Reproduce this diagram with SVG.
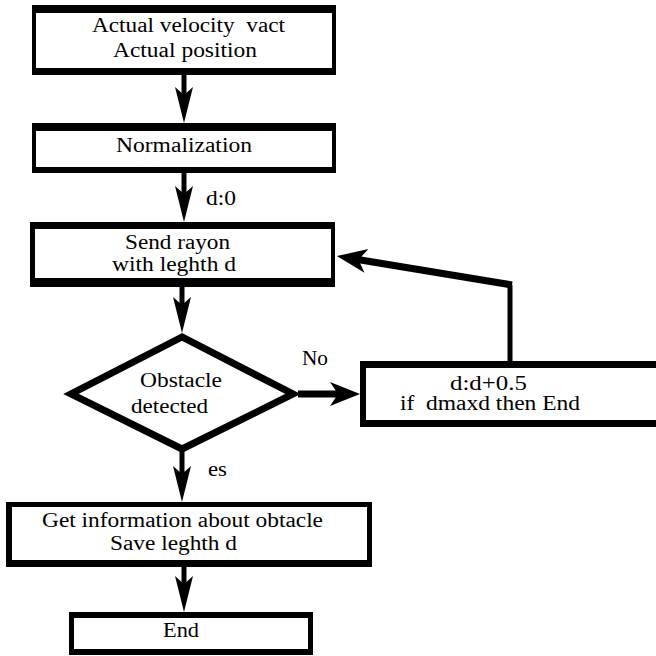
<svg xmlns="http://www.w3.org/2000/svg" width="656" height="656" viewBox="0 0 656 656" font-family="'Liberation Serif', 'Times New Roman', 'DejaVu Serif', serif">
<style>
.outer{fill:#000}
.inner{fill:#fff}
text{font-family:'Liberation Serif','Times New Roman','DejaVu Serif',serif;font-size:20px;fill:#000;white-space:pre}
.ln{fill:none;stroke:#000;stroke-linecap:butt;stroke-linejoin:miter}
</style>
<defs>
<marker id="ah" markerUnits="userSpaceOnUse" orient="auto" refX="0" refY="0" markerWidth="60" markerHeight="40" overflow="visible">
<path d="M20,0 L-16,-9 L-8,0 L-16,9 Z" fill="#000"/>
</marker>
<marker id="ahb" markerUnits="userSpaceOnUse" orient="auto" refX="0" refY="0" markerWidth="60" markerHeight="40" overflow="visible">
<path d="M18,0 L-12,-12 L-4,0 L-12,12 Z" fill="#000"/>
</marker>
</defs>
<rect width="656" height="656" fill="#fff"/>
<g id="connectors">
<line class="ln" x1="184" y1="75" x2="184" y2="103" stroke-width="5" marker-end="url(#ah)"/>
<line class="ln" x1="184" y1="173" x2="184" y2="202" stroke-width="5" marker-end="url(#ah)"/>
<line class="ln" x1="182" y1="287" x2="182" y2="313" stroke-width="5" marker-end="url(#ah)"/>
<line class="ln" x1="298" y1="394" x2="342" y2="394" stroke-width="7" marker-end="url(#ahb)"/>
<polyline class="ln" points="510,362 510,285" stroke-width="5"/>
<line class="ln" x1="512" y1="285" x2="354.6" y2="259" stroke-width="7" marker-end="url(#ahb)"/>
<line class="ln" x1="182" y1="450" x2="182" y2="482" stroke-width="5" marker-end="url(#ah)"/>
<line class="ln" x1="184" y1="567" x2="184" y2="592" stroke-width="5" marker-end="url(#ah)"/>
</g>
<g id="node-velocity">
<rect class="outer" x="32" y="5" width="304" height="70"/>
<rect class="inner" x="36" y="13" width="296" height="55"/>
<text x="92" y="32" textLength="193" lengthAdjust="spacingAndGlyphs" xml:space="preserve">Actual velocity  vact</text>
<text x="113" y="57" textLength="144" lengthAdjust="spacingAndGlyphs">Actual position</text>
</g>
<g id="node-normalization">
<rect class="outer" x="32" y="123" width="304" height="50"/>
<rect class="inner" x="36" y="131" width="296" height="36"/>
<text x="116" y="152" textLength="136" lengthAdjust="spacingAndGlyphs">Normalization</text>
</g>
<g id="label-d0">
<text x="206" y="205" textLength="30" lengthAdjust="spacingAndGlyphs">d:0</text>
</g>
<g id="node-send">
<rect class="outer" x="30" y="222" width="305" height="65"/>
<rect class="inner" x="35" y="229" width="296" height="49"/>
<text x="125" y="249" textLength="105" lengthAdjust="spacingAndGlyphs">Send rayon</text>
<text x="112" y="271" textLength="124" lengthAdjust="spacingAndGlyphs">with leghth d</text>
</g>
<g id="node-obstacle">
<polygon class="ln" points="182,337 71,394 182,449 293,394" stroke-width="7" fill="#fff"/>
<text x="140" y="387" textLength="82" lengthAdjust="spacingAndGlyphs">Obstacle</text>
<text x="131" y="413" textLength="77" lengthAdjust="spacingAndGlyphs">detected</text>
</g>
<g id="label-no">
<text x="302" y="365" textLength="26" lengthAdjust="spacingAndGlyphs">No</text>
</g>
<g id="node-increment">
<rect class="outer" x="360" y="361" width="300" height="66"/>
<rect class="inner" x="366" y="368" width="300" height="52"/>
<text x="450" y="390" textLength="77" lengthAdjust="spacingAndGlyphs">d:d+0.5</text>
<text x="400" y="410" textLength="180" lengthAdjust="spacingAndGlyphs" xml:space="preserve">if  dmaxd then End</text>
</g>
<g id="label-es">
<text x="208" y="476" textLength="19" lengthAdjust="spacingAndGlyphs">es</text>
</g>
<g id="node-info">
<rect class="outer" x="6" y="502" width="366" height="65"/>
<rect class="inner" x="12" y="507" width="355" height="53"/>
<text x="42" y="527" textLength="281" lengthAdjust="spacingAndGlyphs">Get information about obtacle</text>
<text x="110" y="550" textLength="127" lengthAdjust="spacingAndGlyphs">Save leghth d</text>
</g>
<g id="node-end">
<rect class="outer" x="69" y="612" width="244" height="43"/>
<rect class="inner" x="74" y="618" width="234" height="31"/>
<text x="163" y="637" textLength="36" lengthAdjust="spacingAndGlyphs">End</text>
</g>
</svg>
